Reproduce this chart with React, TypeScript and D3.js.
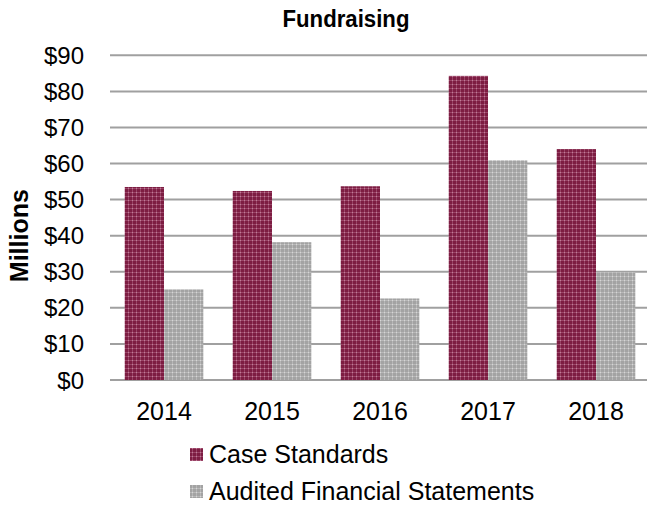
import React from "react";
import * as d3 from "d3";

const categories = ["2014", "2015", "2016", "2017", "2018"];
const seriesNames = ["Case Standards", "Audited Financial Statements"];
const caseStandards = [53.5, 52.4, 53.7, 84.3, 64.0];
const auditedStatements = [25.1, 38.2, 22.6, 60.9, 29.8];
const yTicks = [0, 10, 20, 30, 40, 50, 60, 70, 80, 90];

const W = 647;
const H = 510;
const left = 110;
const right = 650;
const top = 55.3;
const bottom = 380;

export default function App() {
  const x0 = d3.scaleBand<string>().domain(categories).range([left, right]).paddingInner(0.272).paddingOuter(0.136);
  const x1 = d3.scaleBand<string>().domain(seriesNames).range([0, x0.bandwidth()]);
  const y = d3.scaleLinear().domain([0, 90]).range([bottom, top]);
  const series = [caseStandards, auditedStatements];
  const fills = ["url(#patCase)", "url(#patAud)"];
  const font = "'Liberation Sans', Arial, sans-serif";
  return (
    <svg width={W} height={H} style={{ position: "absolute", left: 0, top: 0 }}>
      <defs>
        <pattern id="patCase" width="4" height="4" patternUnits="userSpaceOnUse">
          <rect width="4" height="4" fill="#7d1d42" />
          <rect x="0" y="0" width="4" height="1" fill="#9a4467" />
          <rect x="0" y="0" width="1" height="4" fill="#9a4467" />
          <rect x="0" y="0" width="1" height="1" fill="#c07e98" />
        </pattern>
        <pattern id="patAud" width="4" height="4" patternUnits="userSpaceOnUse">
          <rect width="4" height="4" fill="#a3a3a3" />
          <rect x="0" y="0" width="4" height="1" fill="#b8b8b8" />
          <rect x="0" y="0" width="1" height="4" fill="#b8b8b8" />
          <rect x="0" y="0" width="1" height="1" fill="#d6d6d6" />
        </pattern>
      </defs>
      <rect width={W} height={H} fill="#fff" />
      <text x={346} y={27} textAnchor="middle" fontFamily={font} fontWeight="bold" fontSize={23} textLength={127} lengthAdjust="spacingAndGlyphs" fill="#000">Fundraising</text>
      {yTicks.map((t) => (
        <g key={t}>
          <line x1={left} x2={W} y1={y(t)} y2={y(t)} stroke="#a0a0a0" strokeWidth={2} />
          <text x={84} y={y(t) + 8.5} textAnchor="end" fontFamily={font} fontSize={24} fill="#000">${t}</text>
        </g>
      ))}
      <text transform={`translate(28,${(top + bottom) / 2 + 18}) rotate(-90)`} textAnchor="middle" fontFamily={font} fontWeight="bold" fontSize={25} fill="#000">Millions</text>
      {categories.map((c, i) => (
        <g key={c}>
          {series.map((s, j) => (
            <rect key={j} x={(x0(c) as number) + (x1(seriesNames[j]) as number)} y={y(s[i])} width={x1.bandwidth()} height={bottom - y(s[i])} fill={fills[j]} />
          ))}
          <text x={(x0(c) as number) + x0.bandwidth() / 2} y={420} textAnchor="middle" fontFamily={font} fontSize={25} fill="#000">{c}</text>
        </g>
      ))}
      {seriesNames.map((n, j) => (
        <g key={n}>
          <rect x={190} y={448 + j * 37} width={13} height={13} fill={fills[j]} />
          <text x={209} y={463 + j * 37} fontFamily={font} fontSize={25} fill="#000">{n}</text>
        </g>
      ))}
    </svg>
  );
}
